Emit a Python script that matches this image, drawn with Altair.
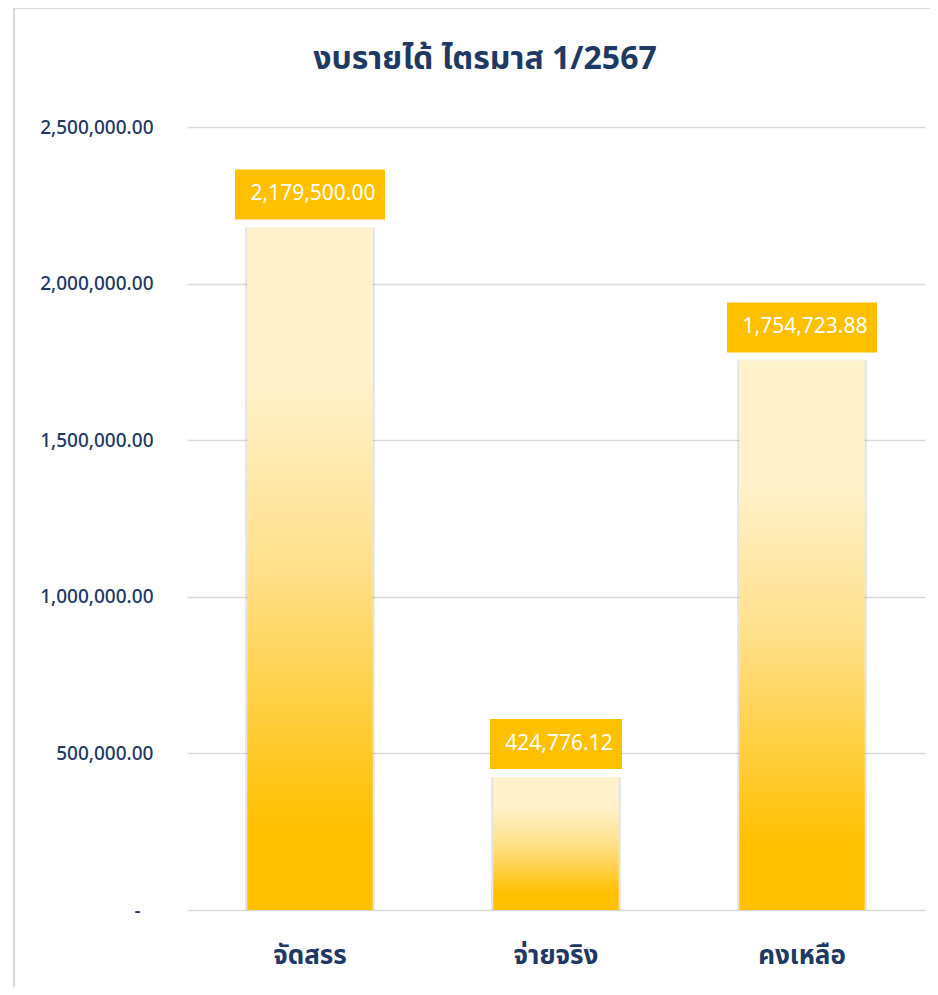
import altair as alt
import pandas as pd

categories = ["จัดสรร", "จ่ายจริง", "คงเหลือ"]
values = [2179500.00, 424776.12, 1754723.88]
y_ticks = [0, 500000, 1000000, 1500000, 2000000, 2500000]
title_text = "งบรายได้ ไตรมาส 1/2567"

df = pd.DataFrame({"cat": categories, "value": values})
df["label"] = df["value"].map(lambda v: f"{v:,.2f}")

NAVY = "#203864"
THAI = "Noto Sans Thai, Noto Sans, sans-serif"
NUMF = "Noto Sans, sans-serif"

gradient = alt.Gradient(
    gradient="linear", x1=0, y1=0, x2=0, y2=1,
    stops=[
        alt.GradientStop(color="#FFF2CC", offset=0),
        alt.GradientStop(color="#FFF2CC", offset=0.22),
        alt.GradientStop(color="#FFE08A", offset=0.5),
        alt.GradientStop(color="#FFC000", offset=0.88),
        alt.GradientStop(color="#FFC000", offset=1),
    ],
)

x = alt.X(
    "cat:N", sort=categories,
    scale=alt.Scale(paddingInner=0.49, paddingOuter=0.245),
    axis=alt.Axis(title=None, labelAngle=0, labelFont=THAI, labelFontSize=26,
                  labelFontWeight="bold", labelColor=NAVY, labelPadding=32,
                  ticks=False, domain=False, grid=False),
)
y = alt.Y(
    "value:Q",
    scale=alt.Scale(domain=[0, 2500000]),
    axis=alt.Axis(
        title=None, values=y_ticks,
        labelExpr="datum.value == 0 ? '-' : format(datum.value, ',.2f')",
        labelFont=NUMF, labelFontSize=19, labelFontWeight=500, labelColor=NAVY,
        labelPadding={"condition": {"test": "datum.value == 0", "value": 47}, "value": 34},
        ticks=False, domain=False,
        grid=True, gridColor="#D9D9D9", gridWidth=1.5,
    ),
)

base = alt.Chart(df)

shadow = base.mark_bar(width=alt.RelativeBandSize(1.035), color="#000000", opacity=0.1).encode(x=x, y=y)
bars = base.mark_bar(color=gradient).encode(x=x, y=y)

box_long = base.transform_filter("length(datum.label) >= 12").mark_tick(
    size=150, thickness=50, color="#FFC000", opacity=1, yOffset=-33
).encode(x=x, y=y)
box_short = base.transform_filter("length(datum.label) < 12").mark_tick(
    size=132, thickness=50, color="#FFC000", opacity=1, yOffset=-33
).encode(x=x, y=y)

labels = base.mark_text(color="white", fontSize=21, font=NUMF, dy=-33, dx=3, baseline="middle").encode(
    x=x, y=y, text="label:N"
)

one = pd.DataFrame({"a": [0]})
frame_left = alt.Chart(one).mark_rule(color="#D9D9D9", strokeWidth=2).encode(
    x=alt.value(-173), y=alt.value(-119), y2=alt.value(900)
)
frame_top = alt.Chart(one).mark_rule(color="#D9D9D9", strokeWidth=2).encode(
    x=alt.value(-173), x2=alt.value(900), y=alt.value(-119)
)

chart = alt.layer(frame_left, frame_top, shadow, bars, box_long, box_short, labels).properties(
    width=738, height=783,
    title=alt.TitleParams(title_text, font=THAI, fontSize=32, fontWeight="bold", color=NAVY,
                          anchor="middle", frame="group", dx=-71, offset=-69),
    autosize=alt.AutoSizeParams(type="none"),
    padding={"left": 179, "top": 119, "right": 5, "bottom": 77},
    background="white",
).configure_view(stroke=None)

chart.save("out.html", embed_options={"renderer": "svg", "actions": False})
